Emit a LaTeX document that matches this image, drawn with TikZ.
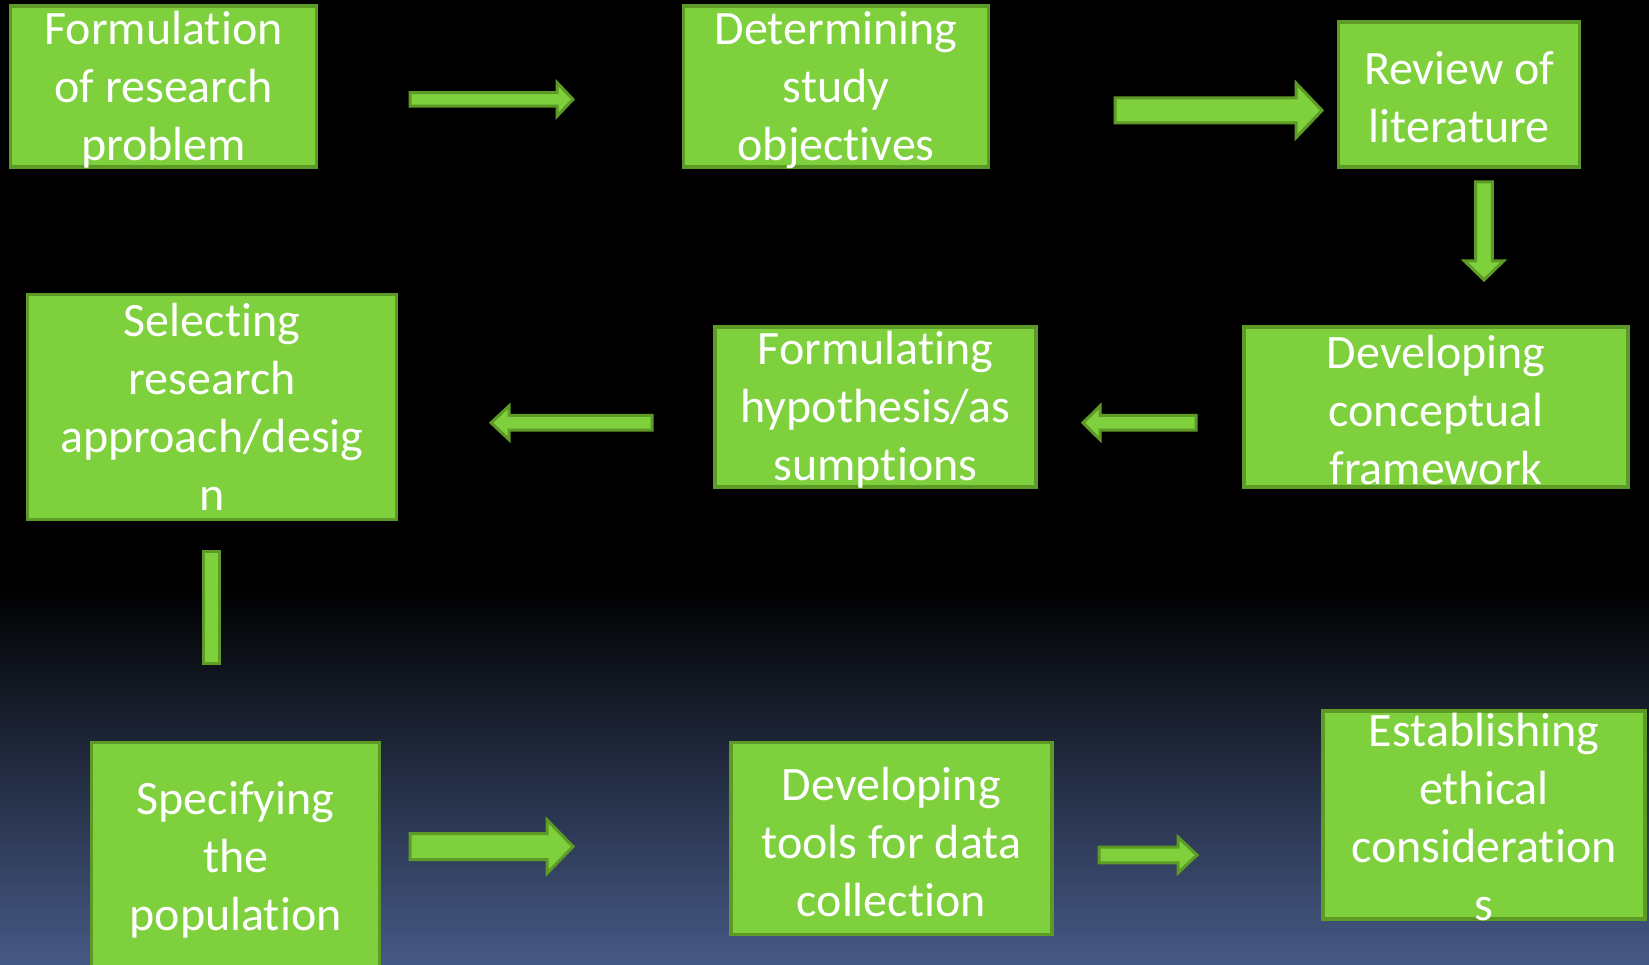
\documentclass[tikz,border=0pt]{standalone}
\usepackage{fontspec}
\setmainfont{Carlito}[Ligatures=NoCommon]
\definecolor{boxfill}{RGB}{126,208,61}
\definecolor{boxline}{RGB}{94,154,38}
\definecolor{bgblue}{RGB}{70,89,133}
\tikzset{
  stepbox/.style={draw=boxline, fill=boxfill, line width=3.5pt, inner sep=0pt},
  steptext/.style={text=white, align=center, inner sep=0pt, font=\fontsize{48}{58}\selectfont},
  blockarrow/.style={draw=boxline, fill=boxfill, line width=3pt, line join=miter},
}
% right-pointing block arrow: tail x, head-base x, tip x, centre y, shaft half, head half
\newcommand{\rarrow}[6]{\draw[blockarrow] (#1,#4-#5) -- (#2,#4-#5) -- (#2,#4-#6) -- (#3,#4) -- (#2,#4+#6) -- (#2,#4+#5) -- (#1,#4+#5) -- cycle;}
% down-pointing block arrow: tail y, head-base y, tip y, centre x, shaft half, head half
\newcommand{\darrow}[6]{\draw[blockarrow] (#4-#5,#1) -- (#4-#5,#2) -- (#4-#6,#2) -- (#4,#3) -- (#4+#6,#2) -- (#4+#5,#2) -- (#4+#5,#1) -- cycle;}
\begin{document}
\begin{tikzpicture}[x=1pt,y=-1pt]
\useasboundingbox (0,0) rectangle (1649,965);
% background
\fill[black] (0,0) rectangle (1649,590);
\shade[top color=black, bottom color=bgblue] (0,588) rectangle (1649,965);

% boxes
\node[stepbox, minimum width=306pt, minimum height=161pt] (b1) at (163.5,86.7) {};
\node[stepbox, minimum width=305pt, minimum height=161pt] (b2) at (836.1,86.7) {};
\node[stepbox, minimum width=241pt, minimum height=145pt] (b3) at (1459.2,94.6) {};
\node[stepbox, minimum width=369pt, minimum height=225pt] (b4) at (211.9,407) {};
\node[stepbox, minimum width=321pt, minimum height=160pt] (b5) at (875.5,407) {};
\node[stepbox, minimum width=384pt, minimum height=160pt] (b6) at (1436.1,407) {};
\node[stepbox, minimum width=288pt, minimum height=230pt] (b7) at (235.6,857.5) {};
\node[stepbox, minimum width=321pt, minimum height=192pt] (b8) at (891.3,838.7) {};
\node[stepbox, minimum width=322pt, minimum height=208pt] (b9) at (1484,815) {};

% texts
\node[steptext] at ([yshift=-3pt]b1.center) {Formulation\\of research\\problem};
\node[steptext] at ([yshift=-3pt]b2.center) {Determining\\study\\objectives};
\node[steptext] at ([yshift=-3pt]b3.center) {Review of\\literature};
\node[steptext] at ([yshift=0pt]b4.center) {Selecting\\research\\approach/desig\\n};
\node[steptext] at ([yshift=-3pt]b5.center) {Formulating\\hypothesis/as\\sumptions};
\node[steptext] at ([yshift=-3pt]b6.center) {Developing\\conceptual\\framework};
\node[steptext] at ([yshift=-2pt]b7.center) {Specifying\\the\\population};
\node[steptext] at ([yshift=-3pt]b8.center) {Developing\\tools for data\\collection};
\node[steptext] at ([yshift=-2pt]b9.center) {Establishing\\ethical\\consideration\\s};

% arrows
\rarrow{410}{557}{573}{99.4}{6.8}{16.8}
\rarrow{1115}{1296}{1322}{110.4}{12.6}{27.3}
\darrow{182}{261}{280}{1484}{8.4}{19.5}
\rarrow{1196}{1100}{1083}{422.8}{7.4}{16.8}
\rarrow{652}{509}{491}{422.8}{7.4}{16.8}
\draw[blockarrow] (203,551) rectangle (219.8,663.6);
\rarrow{410}{547}{573}{846.6}{13}{26.8}
\rarrow{1099}{1178}{1197}{855}{7.9}{17.9}
\end{tikzpicture}
\end{document}
